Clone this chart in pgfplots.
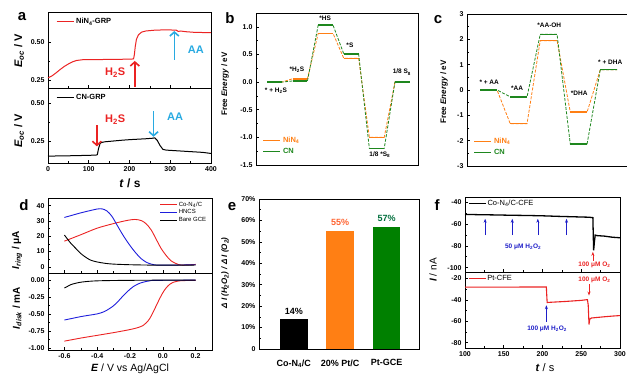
\documentclass[border=0pt]{standalone}
\usepackage{fontspec}
\setmainfont{Liberation Sans}
\usepackage{pgfplots}
\pgfplotsset{compat=1.18}
\usetikzlibrary{arrows.meta}
\newcommand{\fs}[1]{\fontsize{#1}{#1}\selectfont}
\definecolor{ared}{RGB}{235,35,35}
\definecolor{aablue}{RGB}{40,170,225}
\definecolor{nor}{RGB}{255,127,20}
\definecolor{cng}{RGB}{30,135,30}
\definecolor{dblue}{RGB}{30,30,220}
\definecolor{fblue}{RGB}{30,30,200}
\definecolor{ebarg}{RGB}{0,128,0}
\definecolor{e55}{RGB}{255,100,50}
\definecolor{e57}{RGB}{0,110,60}
\pgfplotsset{
  base/.style={scale only axis, anchor=south west, clip=false,
    axis line style={line width=0.7pt},
    tick align=inside, tick pos=left,
    major tick length=3pt, minor tick length=1.7pt,
    every tick/.style={black, line width=0.6pt},
    tick label style={font=\bfseries\fs{7}},
    /pgf/number format/assume math mode=true},
  dash/.style={dashed, line width=0.8pt, dash pattern=on 3pt off 1.5pt},
  lev/.style={line width=1.5pt},
}
\begin{document}
\begin{tikzpicture}
\useasboundingbox (0pt,0pt) rectangle (627pt,375pt);

% ================= panel a top
\begin{axis}[base, at={(48pt,287pt)}, width=163pt, height=76pt,
  xmin=0, xmax=400, ymin=0.2, ymax=0.7,
  xtick={0,100,...,400}, xticklabels={}, minor x tick num=1,
  ytick={0.25,0.5}, minor y tick num=1,
  yticklabel style={/pgf/number format/fixed,/pgf/number format/fixed zerofill,/pgf/number format/precision=2},
  legend style={draw=none, fill=none, at={(0.03,0.97)}, anchor=north west, font=\bfseries\fs{7.5}}]
\addplot[ared, line width=1pt] coordinates {
(0,0.267)(10,0.28)(20,0.30)(30,0.322)(40,0.342)(50,0.358)(60,0.372)(70,0.381)(85,0.386)
(120,0.387)(150,0.388)(180,0.389)(205,0.390)(210,0.392)(212,0.42)(214,0.47)(217,0.52)
(222,0.55)(230,0.568)(240,0.575)(260,0.58)(280,0.582)(300,0.582)(315,0.58)(320,0.572)
(325,0.575)(340,0.57)(360,0.566)(380,0.565)(400,0.564)};
\addlegendentry{NiN\textsubscript{4}-GRP}
\draw[ared, line width=1.6pt, -{Straight Barb[length=4pt,width=9pt]}] (axis cs:213,0.205) -- (axis cs:213,0.378);
\node[ared, font=\bfseries\fs{11}] at (axis cs:165,0.30) {H\textsubscript{2}S};
\draw[aablue, line width=1.6pt, -{Straight Barb[length=4pt,width=9pt]}] (axis cs:310,0.385) -- (axis cs:310,0.575);
\node[aablue, font=\bfseries\fs{11}] at (axis cs:363,0.455) {AA};
\end{axis}

% ================= panel a bottom
\begin{axis}[base, at={(48pt,212pt)}, width=163pt, height=75pt,
  xmin=0, xmax=400, ymin=0.105, ymax=0.6,
  xtick={0,100,...,400}, minor x tick num=1,
  ytick={0.25,0.5}, minor y tick num=1,
  yticklabel style={/pgf/number format/fixed,/pgf/number format/fixed zerofill,/pgf/number format/precision=2},
  legend style={draw=none, fill=none, at={(0.03,0.97)}, anchor=north west, font=\bfseries\fs{7.5}}]
\addplot[black, line width=1pt] coordinates {
(0,0.150)(30,0.152)(60,0.153)(90,0.155)(118,0.157)(121,0.16)(124,0.20)(128,0.235)(132,0.241)
(140,0.245)(160,0.25)(180,0.255)(200,0.259)(220,0.262)(240,0.265)(255,0.268)(262,0.271)
(268,0.255)(275,0.22)(282,0.195)(290,0.19)(320,0.185)(350,0.18)(380,0.175)(400,0.168)};
\addlegendentry{CN-GRP}
\draw[ared, line width=1.6pt, -{Straight Barb[length=4pt,width=9pt]}] (axis cs:120,0.355) -- (axis cs:120,0.215);
\node[ared, font=\bfseries\fs{11}] at (axis cs:165,0.39) {H\textsubscript{2}S};
\draw[aablue, line width=1.6pt, -{Straight Barb[length=4pt,width=9pt]}] (axis cs:259,0.445) -- (axis cs:259,0.278);
\node[aablue, font=\bfseries\fs{11}] at (axis cs:312,0.41) {AA};
\end{axis}
\node[rotate=90, font=\bfseries\fs{11}] at (19pt,324pt) {\textit{E}\textsubscript{\textit{oc}} / V};
\node[rotate=90, font=\bfseries\fs{11}] at (19pt,244pt) {\textit{E}\textsubscript{\textit{oc}} / V};
\node[font=\bfseries\fs{12}] at (130pt,192pt) {\textit{t} / s};
\node[font=\bfseries\fs{15}] at (22pt,358pt) {a};

% ================= panel b
\begin{axis}[base, at={(256pt,210pt)}, width=162pt, height=152pt,
  xmin=-0.72, xmax=5.61, ymin=-1.5, ymax=1.25,
  xtick=\empty, ytick={-1.5,-1,...,1}, minor y tick num=1,
  yticklabel style={/pgf/number format/fixed,/pgf/number format/fixed zerofill,/pgf/number format/precision=1},
  unbounded coords=jump,
  legend cell align=left,
  legend style={draw=none, fill=none, at={(0.02,0.04)}, anchor=south west, font=\bfseries\fs{7.5}}]
\addplot[nor, dash, forget plot] coordinates {(-0.29,0)(0.29,0)(0.71,0.06)(1.29,0.06)(1.71,0.88)(2.29,0.88)(2.71,0.43)(3.29,0.43)(3.71,-1)(4.29,-1)(4.71,0)(5.29,0)};
\addplot[nor, lev] coordinates {(-0.29,0)(0.29,0)(0.5,nan)(0.71,0.06)(1.29,0.06)(1.5,nan)(1.71,0.88)(2.29,0.88)(2.5,nan)(2.71,0.43)(3.29,0.43)(3.5,nan)(3.71,-1)(4.29,-1)(4.5,nan)(4.71,0)(5.29,0)};
\addlegendentry{\textcolor{nor}{NiN\textsubscript{4}}}
\addplot[cng, dash, forget plot] coordinates {(-0.29,0)(0.29,0)(0.71,0.02)(1.29,0.02)(1.71,1.03)(2.29,1.03)(2.71,0.51)(3.29,0.51)(3.71,-1.2)(4.29,-1.2)(4.71,0)(5.29,0)};
\addplot[cng, lev] coordinates {(-0.29,0)(0.29,0)(0.5,nan)(0.71,0.02)(1.29,0.02)(1.5,nan)(1.71,1.03)(2.29,1.03)(2.5,nan)(2.71,0.51)(3.29,0.51)(3.5,nan)(3.71,-1.2)(4.29,-1.2)(4.5,nan)(4.71,0)(5.29,0)};
\addlegendentry{\textcolor{cng}{CN}}
\node[font=\bfseries\fs{6.5}] at (axis cs:0.06,-0.15) {* + H\textsubscript{2}S};
\node[font=\bfseries\fs{6.5}] at (axis cs:0.88,0.22) {*H\textsubscript{2}S};
\node[font=\bfseries\fs{6.5}] at (axis cs:1.98,1.16) {*HS};
\node[font=\bfseries\fs{6.5}] at (axis cs:2.95,0.67) {*S};
\node[font=\bfseries\fs{6.5}] at (axis cs:4.12,-1.32) {1/8 *S\textsubscript{8}};
\node[font=\bfseries\fs{6.5}] at (axis cs:4.98,0.18) {1/8 S\textsubscript{8}};
\end{axis}
\node[rotate=90, font=\bfseries\fs{8}] at (225pt,291pt) {Free \textit{Energy} / eV};
\node[font=\bfseries\fs{15}] at (230pt,357pt) {b};

% ================= panel c
\begin{axis}[base, at={(467pt,209pt)}, width=163pt, height=152pt,
  xmin=-0.72, xmax=4.71, ymin=-3, ymax=3,
  xtick=\empty, ytick={-3,-2,...,3}, minor y tick num=1,
  unbounded coords=jump,
  legend cell align=left,
  legend style={draw=none, fill=none, at={(0.02,0.04)}, anchor=south west, font=\bfseries\fs{7.5}}]
\addplot[nor, dash, forget plot] coordinates {(-0.28,0)(0.28,0)(0.72,-1.33)(1.28,-1.33)(1.72,1.95)(2.28,1.95)(2.72,-0.87)(3.28,-0.87)(3.72,0.8)(4.28,0.8)};
\addplot[nor, lev] coordinates {(-0.28,0)(0.28,0)(0.5,nan)(0.72,-1.33)(1.28,-1.33)(1.5,nan)(1.72,1.95)(2.28,1.95)(2.5,nan)(2.72,-0.87)(3.28,-0.87)(3.5,nan)(3.72,0.8)(4.28,0.8)};
\addlegendentry{\textcolor{nor}{NiN\textsubscript{4}}}
\addplot[cng, dash, forget plot] coordinates {(-0.28,0)(0.28,0)(0.72,-0.27)(1.28,-0.27)(1.72,2.2)(2.28,2.2)(2.72,-2.13)(3.28,-2.13)(3.72,0.8)(4.28,0.8)};
\addplot[cng, lev] coordinates {(-0.28,0)(0.28,0)(0.5,nan)(0.72,-0.27)(1.28,-0.27)(1.5,nan)(1.72,2.2)(2.28,2.2)(2.5,nan)(2.72,-2.13)(3.28,-2.13)(3.5,nan)(3.72,0.8)(4.28,0.8)};
\addlegendentry{\textcolor{cng}{CN}}
\node[font=\bfseries\fs{6.5}] at (axis cs:0.02,0.32) {* + AA};
\node[font=\bfseries\fs{6.5}] at (axis cs:0.95,0.08) {*AA};
\node[font=\bfseries\fs{6.5}] at (axis cs:2.02,2.57) {*AA-OH};
\node[font=\bfseries\fs{6.5}] at (axis cs:3.02,-0.12) {*DHA};
\node[font=\bfseries\fs{6.5}] at (axis cs:4.05,1.1) {* + DHA};
\end{axis}
\node[rotate=90, font=\bfseries\fs{8}] at (444pt,283pt) {Free \textit{Energy} / eV};
\node[font=\bfseries\fs{15}] at (438pt,355pt) {c};

% ================= panel d top
\begin{axis}[base, at={(48pt,102pt)}, width=164pt, height=75pt,
  xmin=-0.7, xmax=0.3, ymin=-4, ymax=45,
  xtick={-0.6,-0.4,...,0.2}, xticklabels={}, minor x tick num=1,
  ytick={0,10,...,40}, minor y tick num=1,
  legend cell align=left,
  legend style={draw=none, fill=none, at={(0.99,0.99)}, anchor=north east, font=\fs{6}, nodes={inner sep=1pt}, row sep=0pt}]
\addplot[ared, line width=0.9pt, smooth] coordinates {(-0.6,16.8)(-0.5,21)(-0.4,25.3)(-0.3,28.3)(-0.22,30.3)(-0.17,31)(-0.13,30.2)(-0.1,28)(-0.07,24)(-0.04,18)(-0.01,12)(0.02,7.5)(0.05,4)(0.08,2.2)(0.11,1.2)(0.15,1.3)(0.2,1.6)};
\addlegendentry{Co-N\textsubscript{4}/C}
\addplot[dblue, line width=0.9pt, smooth] coordinates {(-0.6,32.3)(-0.55,33.8)(-0.5,35.3)(-0.45,36.6)(-0.4,37.8)(-0.37,37.9)(-0.34,36.5)(-0.31,33)(-0.28,27.5)(-0.25,22)(-0.22,17)(-0.19,12.5)(-0.16,8.5)(-0.13,5.2)(-0.1,3)(-0.07,1.8)(-0.04,1.2)(0,1.1)(0.1,1.2)(0.2,1.4)};
\addlegendentry{HNCS}
\addplot[black, line width=0.9pt, smooth] coordinates {(-0.6,20.8)(-0.58,18)(-0.56,15.3)(-0.53,12)(-0.5,8.7)(-0.47,6.3)(-0.44,4.4)(-0.4,3.2)(-0.35,2.3)(-0.3,1.8)(-0.2,1.4)(-0.1,1.2)(0,1.1)(0.2,1.2)};
\addlegendentry{Bare GCE}
\end{axis}

% ================= panel d bottom
\begin{axis}[base, at={(48pt,25pt)}, width=164pt, height=77pt,
  xmin=-0.7, xmax=0.3, ymin=-1.03, ymax=0.1,
  xtick={-0.6,-0.4,...,0.2}, minor x tick num=1,
  ytick={-1,-0.75,...,0}, minor y tick num=1,
  xticklabel style={/pgf/number format/fixed,/pgf/number format/fixed zerofill,/pgf/number format/precision=1},
  yticklabel style={/pgf/number format/fixed,/pgf/number format/fixed zerofill,/pgf/number format/precision=2}]
\addplot[ared, line width=0.9pt, smooth] coordinates {(-0.6,-0.90)(-0.5,-0.855)(-0.4,-0.815)(-0.3,-0.775)(-0.2,-0.73)(-0.15,-0.70)(-0.12,-0.67)(-0.1,-0.63)(-0.08,-0.57)(-0.06,-0.48)(-0.04,-0.38)(-0.02,-0.28)(0,-0.19)(0.02,-0.12)(0.04,-0.07)(0.06,-0.04)(0.09,-0.02)(0.12,-0.012)(0.2,-0.008)};
\addplot[dblue, line width=0.9pt, smooth] coordinates {(-0.6,-0.59)(-0.55,-0.565)(-0.5,-0.54)(-0.45,-0.52)(-0.4,-0.50)(-0.36,-0.47)(-0.33,-0.43)(-0.3,-0.38)(-0.27,-0.31)(-0.24,-0.23)(-0.21,-0.16)(-0.18,-0.10)(-0.15,-0.06)(-0.12,-0.035)(-0.08,-0.015)(-0.04,-0.008)(0.2,-0.005)};
\addplot[black, line width=0.9pt, smooth] coordinates {(-0.6,-0.12)(-0.58,-0.095)(-0.56,-0.07)(-0.53,-0.05)(-0.5,-0.035)(-0.45,-0.022)(-0.4,-0.015)(-0.3,-0.01)(-0.1,-0.006)(0.2,-0.004)};
\end{axis}
\node[rotate=90, font=\bfseries\fs{10}] at (17pt,125pt) {\textit{I}\textsubscript{\textit{ring}} / μA};
\node[rotate=90, font=\bfseries\fs{10}] at (17pt,67pt) {\textit{I}\textsubscript{\textit{disk}} / mA};
\node[font=\fs{10.5}] at (130pt,6.5pt) {\textbf{\textit{E}} / V vs Ag/AgCl};
\node[font=\bfseries\fs{15}] at (24pt,170pt) {d};

% ================= panel e
\begin{axis}[base, at={(259pt,26pt)}, width=160pt, height=150pt,
  xmin=0.25, xmax=3.7, ymin=0, ymax=70,
  xtick={1,2,3}, xtick style={draw=none},
  xticklabels={Co-N\textsubscript{4}/C, 20\% Pt/C, Pt-GCE},
  xticklabel style={font=\bfseries\fs{9}, yshift=-7pt},
  ytick={0,10,...,70}, minor y tick num=1,
  yticklabels={0,10\%,20\%,30\%,40\%,50\%,60\%,70\%}]
\addplot[ybar, bar width=0.6, bar shift=0pt, fill=black, draw=none] coordinates {(1,14)};
\addplot[ybar, bar width=0.6, bar shift=0pt, fill=nor, draw=none] coordinates {(2,55)};
\addplot[ybar, bar width=0.6, bar shift=0pt, fill=ebarg, draw=none] coordinates {(3,57)};
\node[anchor=south, font=\bfseries\fs{9}, black] at (axis cs:1,14.5) {14\%};
\node[anchor=south, font=\bfseries\fs{9}, e55] at (axis cs:2,55.8) {55\%};
\node[anchor=south, font=\bfseries\fs{9}, e57] at (axis cs:3,57.8) {57\%};
\end{axis}
\node[rotate=90, font=\bfseries\itshape\fs{8}] at (225pt,102pt) {Δ I (H\textsubscript{2}O\textsubscript{2}) / Δ I (O\textsubscript{2})};
\node[font=\bfseries\fs{15}] at (232pt,168pt) {e};

% ================= panel f top
\begin{axis}[base, at={(465pt,103pt)}, width=155pt, height=75pt,
  xmin=100, xmax=300, ymin=-104, ymax=-35,
  xtick={100,150,...,300}, xticklabels={}, minor x tick num=1,
  ytick={-100,-80,-60,-40}, minor y tick num=1,
  legend style={draw=none, fill=none, at={(0.0,1.0)}, anchor=north west, font=\fs{7.5}, nodes={inner sep=1pt}}]
\addplot[black, line width=1.3pt] coordinates {(100,-51)(120,-51.3)(140,-51.5)(160,-51.8)(180,-52)(200,-52.3)(220,-52.8)(240,-53.2)(260,-53.6)(265,-54)(265.5,-70)(266,-84)(267,-76)(268,-70)(270,-70.5)(280,-71)(290,-72)(300,-72.5)};
\addlegendentry{Co-N\textsubscript{4}/C-CFE}
\foreach \t in {126,161,194,231}{
  \edef\tmp{\noexpand\draw[fblue, line width=0.7pt, -{Stealth[length=4pt,width=3pt]}] (axis cs:\t,-70) -- (axis cs:\t,-55);}\tmp
}
\node[fblue, font=\bfseries\fs{6.5}] at (axis cs:175,-81) {50 μM H\textsubscript{2}O\textsubscript{2}};
\draw[ared, line width=0.7pt, -{Stealth[length=4pt,width=3pt]}] (axis cs:265,-93.5) -- (axis cs:265,-85.5);
\node[ared, font=\bfseries\fs{6.5}] at (axis cs:267,-97.5) {100 μM O\textsubscript{2}};
\end{axis}

% ================= panel f bottom
\begin{axis}[base, at={(465pt,27pt)}, width=155pt, height=76pt,
  xmin=100, xmax=300, ymin=-85, ymax=-14,
  xtick={100,150,...,300}, minor x tick num=1,
  ytick={-80,-60,-40,-20}, minor y tick num=1,
  legend style={draw=none, fill=none, at={(0.0,1.0)}, anchor=north west, font=\fs{7.5}, nodes={inner sep=1pt}}]
\addplot[ared, line width=1.1pt] coordinates {(100,-28.2)(150,-28.1)(200,-28)(205,-28)(205.5,-36)(206,-42.5)(210,-42.3)(230,-41.5)(250,-40.5)(258,-39.8)(259,-45)(260,-63)(261,-58)(263,-57)(270,-56.5)(280,-55.8)(290,-55.2)(300,-54.7)};
\addlegendentry{Pt-CFE}
\draw[ared, line width=0.7pt, -{Stealth[length=4pt,width=3pt]}] (axis cs:260,-25.5) -- (axis cs:260,-36);
\node[ared, font=\bfseries\fs{6.5}] at (axis cs:267,-21.5) {100 μM O\textsubscript{2}};
\draw[fblue, line width=0.7pt, -{Stealth[length=4pt,width=3pt]}] (axis cs:205,-60.5) -- (axis cs:205,-45);
\node[fblue, font=\bfseries\fs{6.5}] at (axis cs:206,-67) {100 μM H\textsubscript{2}O\textsubscript{2}};
\end{axis}
\node[rotate=90, font=\fs{10}] at (433pt,105pt) {\textbf{\textit{I}} / nA};
\node[font=\fs{11}] at (545pt,7pt) {\textbf{\textit{t}} / s};
\node[font=\bfseries\fs{15}] at (437pt,170pt) {f};
\end{tikzpicture}
\end{document}
